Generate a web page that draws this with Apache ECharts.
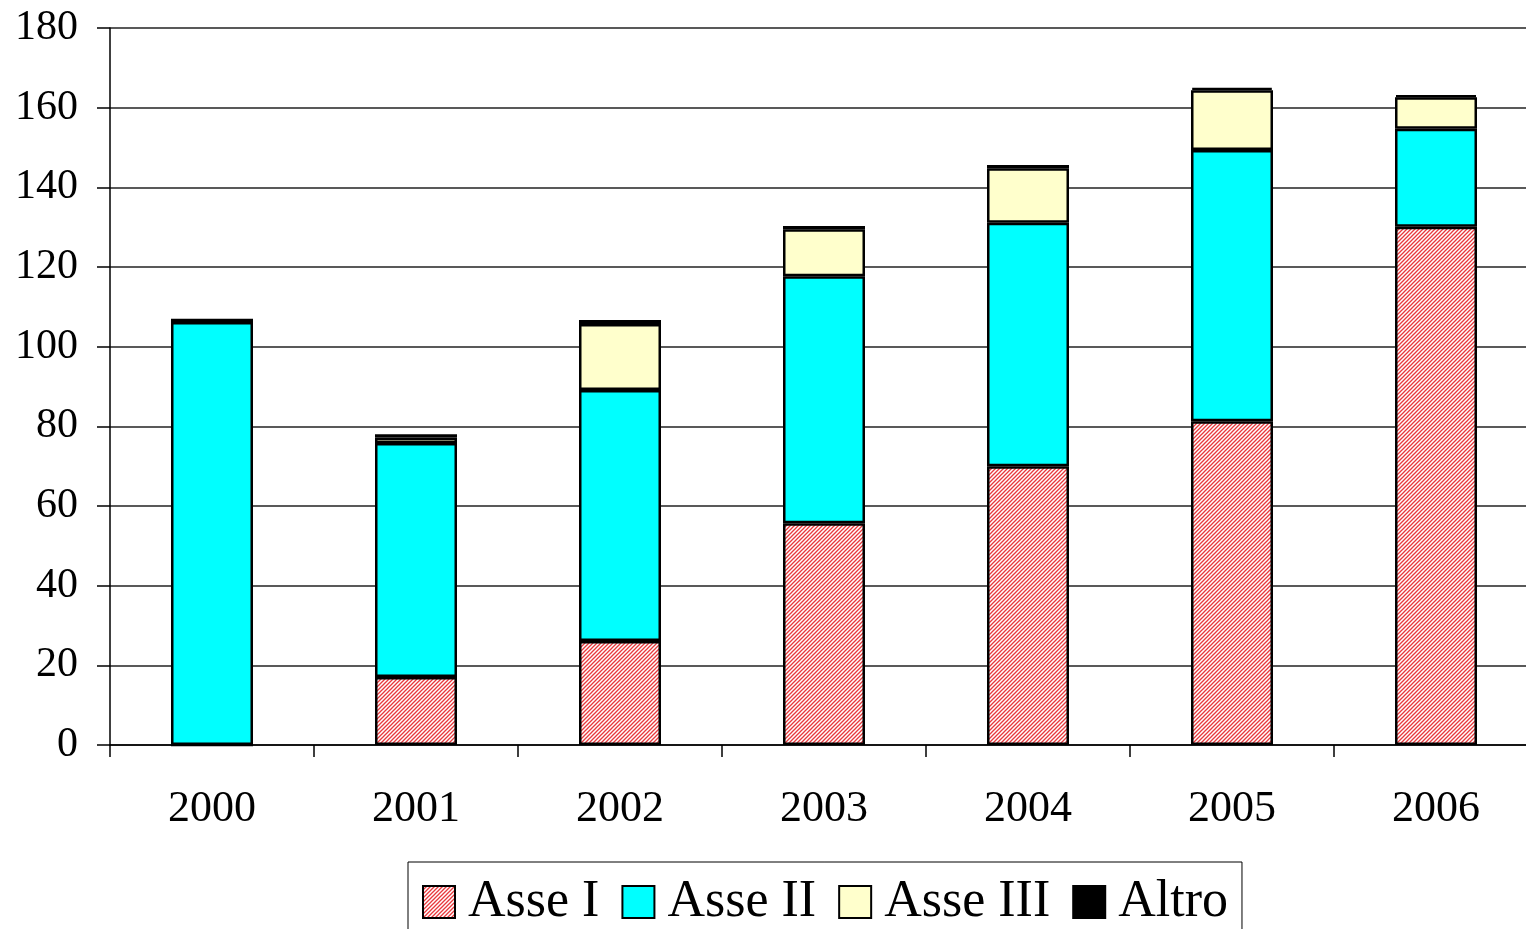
<!DOCTYPE html>
<html>
<head>
<meta charset="utf-8">
<script src="https://cdn.jsdelivr.net/npm/echarts@6/dist/echarts.min.js"></script>
<style>
  html, body { margin: 0; padding: 0; background: #fff; }
  #chart { width: 1526px; height: 929px; }
</style>
</head>
<body>
<div id="chart"></div>
<script>
// anni
var years = ['2000', '2001', '2002', '2003', '2004', '2005', '2006']
// valori per asse
var asseI = [0, 17.1, 26.1, 55.7, 70.0, 81.3, 130.1]
var asseII = [106.2, 58.7, 63.0, 62.0, 61.1, 68.1, 24.6]
var asseIII = [0, 1.4, 16.6, 11.8, 13.7, 15.0, 7.9]
var altro = [0.8, 0.8, 1.0, 0.8, 0.8, 0.6, 0.5]

// tratteggio rosso per Asse I
function hatch() {
  var c = document.createElement('canvas')
  c.width = 4
  c.height = 4
  var ctx = c.getContext('2d')
  ctx.fillStyle = '#fff'
  ctx.fillRect(0, 0, 4, 4)
  ctx.strokeStyle = '#e8383c'
  ctx.lineWidth = 1.3
  ctx.beginPath()
  ctx.moveTo(-1, 5); ctx.lineTo(5, -1)
  ctx.moveTo(-1, 1); ctx.lineTo(1, -1)
  ctx.moveTo(3, 5); ctx.lineTo(5, 3)
  ctx.stroke()
  return c
}

var font = 'Liberation Serif'
var chart = echarts.init(document.getElementById('chart'))

function serie(name, data, color) {
  return {
    name: name,
    type: 'bar',
    stack: 'tot',
    data: data,
    barWidth: 82,
    itemStyle: { color: color, borderColor: '#000', borderWidth: 2.5 },
    emphasis: { disabled: true }
  }
}

chart.setOption({
  animation: false,
  // l'area del grafico esce a destra oltre il bordo
  grid: { left: 110, top: 28, width: 1428, height: 717, outerBoundsMode: 'none' },
  legend: {
    left: 408,
    top: 862,
    padding: [14, 14, 30, 14],
    borderColor: '#000',
    borderWidth: 1,
    itemWidth: 32,
    itemHeight: 32,
    itemGap: 22,
    textStyle: { fontFamily: font, fontSize: 52, color: '#000', padding: [0, 0, 0, 8] },
    data: ['Asse I', 'Asse II', 'Asse III', 'Altro'],
    icon: 'rect'
  },
  xAxis: {
    type: 'category',
    data: years,
    axisLine: { lineStyle: { color: '#000', width: 1.5 } },
    axisTick: { show: true, length: 12, lineStyle: { color: '#000', width: 1.5 } },
    axisLabel: { fontFamily: font, fontSize: 44, color: '#000', margin: 42 }
  },
  yAxis: {
    type: 'value',
    min: 0,
    max: 180,
    interval: 20,
    axisLine: { show: true, lineStyle: { color: '#000', width: 1.5 } },
    axisTick: { show: true, length: 13, lineStyle: { color: '#000', width: 1.5 } },
    axisLabel: { fontFamily: font, fontSize: 42, color: '#000', margin: 32 },
    splitLine: { lineStyle: { color: '#222', width: 1.5 } }
  },
  series: [
    serie('Asse I', asseI, { image: hatch(), repeat: 'repeat' }),
    serie('Asse II', asseII, '#00ffff'),
    serie('Asse III', asseIII, '#ffffcc'),
    serie('Altro', altro, '#000')
  ]
})
</script>
</body>
</html>
